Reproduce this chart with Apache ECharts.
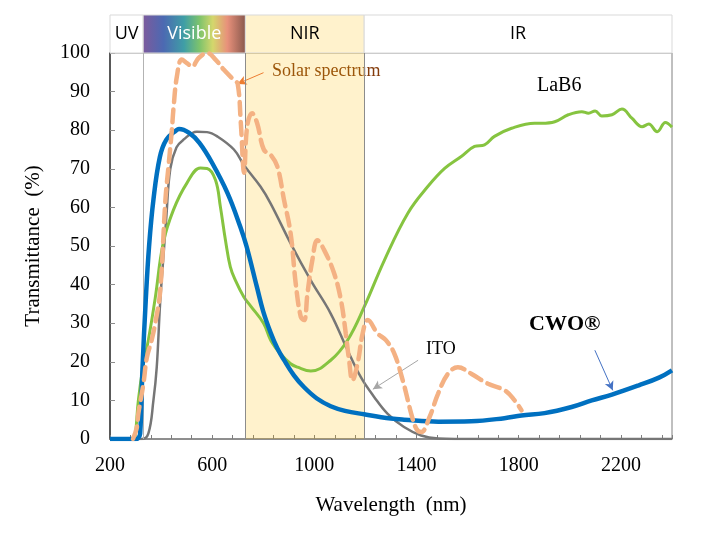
<!DOCTYPE html>
<html><head><meta charset="utf-8">
<script src="https://cdn.jsdelivr.net/npm/echarts@6/dist/echarts.min.js"></script>
<style>html,body{margin:0;padding:0;background:#fff}#c{width:712px;height:537px}</style>
</head><body><div id="c"></div>
<script>
// ---- data ----
const cwoNm = [200,300,310,318,327,340,353,370,395,420,460,470,510,550,600,660,710,735,775,800,829,855,881,920,960,1010,1064,1120,1195,1300,1351,1485,1614,1744,1811,1901,2007,2086,2165,2270,2349,2400];
const cwoT  = [0,0,0.2,1.3,18,36,50,62,73,77.5,80,80.3,79.3,76.7,71.5,63.7,55,49.8,39.4,33,27.5,23.5,20.5,16.5,13.4,10.5,8.5,7.3,6.4,5.3,5.0,4.5,4.6,5.4,6.1,6.7,8.3,10,11.5,13.9,15.9,17.8];

const itoNm = [200,324,350,370,383,396,410,420,436,460,487,540,580,620,685,724,789,829,907,986,1064,1130,1182,1234,1287,1351,1418,1485,1550,2400];
const itoT  = [0,0,1.4,10,18.6,35,48,57,70,75.5,77.5,79.6,79.5,78.4,75,71,65.4,61,50.7,41.1,32.5,23,16,10.9,6.5,3.1,0.9,0.1,0,0];

const lab6Nm = [200,290,298,311,331,350,377,408,448,501,554,580,613,632,652,671,691,724,750,801,829,868,907,934,986,1064,1130,1195,1274,1366,1444,1510,1575,1627,1666,1705,1772,1862,1890,1941,1994,2047,2073,2099,2125,2165,2204,2243,2283,2309,2342,2374,2400];
const lab6T  = [0,0,0.5,10,19.5,25.6,36.5,50.7,59.3,66.3,70.2,70.1,67.1,60.2,51.5,44.6,41.1,36.8,34.5,30,25.6,22,19.5,18.6,17.6,20.4,25.6,34.2,46.3,58.5,65.4,70.1,73.2,75.8,76.2,78.4,80.5,81.8,81.8,82.2,84,84.8,84.4,85,83.7,84,85.5,83.1,80.9,81.6,79.6,82,80.8];

const solarNm = [290,305,311,331,344,363,377,396,417,429,442,449,462,481,501,521,547,580,613,645,685,700,712,725,737,756,776,802,829,855,881,907,927,947,960,973,992,1012,1038,1077,1104,1123,1136,1149,1169,1189,1209,1248,1280,1313,1346,1366,1379,1399,1418,1451,1484,1523,1562,1614,1680,1745,1784,1811];
const solarT  = [0,3,6.6,14.4,21,25.6,30,38,62,70.6,80,86,94,98.3,97.4,96.5,98.7,100,98.3,95.7,93,92,82,69,81,84.4,81.8,75,73.6,70.6,62,53.3,40.3,31.6,30.8,37.7,46.3,51.5,49,43,36,27.3,20.4,15.2,19.5,27.3,30.8,27.3,25.6,22.1,15.2,10,6.6,2.7,1.8,5.7,11.7,16.9,18.6,16.9,14.3,12.6,10,7.4];

const bandNames = ['UV','Visible','NIR','IR'];
const bandEdges = [200,330,730,1195,2400];
const xTickLabels = [200,600,1000,1400,1800,2200];

const zip = (a,b) => a.map((v,i)=>[v,b[i]]);

const serif = 'Liberation Serif';
const chart = echarts.init(document.getElementById('c'), null, {renderer:'canvas'});

const visGrad = new echarts.graphic.LinearGradient(0,0,1,0,[
  {offset:0,color:'#7D5A9C'},{offset:0.2,color:'#4C69B2'},{offset:0.4,color:'#3F9EA6'},
  {offset:0.55,color:'#7DC36C'},{offset:0.68,color:'#D4D76C'},{offset:0.82,color:'#E8917B'},{offset:1,color:'#87574C'}]);
const bandFill = ['#ffffff', visGrad, '#FFF2CC', '#ffffff'];
const bandText = ['#000','#fff','#000','#000'];

const headerAreas = bandNames.map((n,i)=>[
  {xAxis: bandEdges[i], name: n, itemStyle:{color: bandFill[i], borderColor:'#d9d9d9', borderWidth:1},
   label:{show:true, position:'inside', color: bandText[i], fontSize:18, fontFamily:'Open Sans'}},
  {xAxis: bandEdges[i+1]}
]);

const lineBase = {type:'line', showSymbol:false, symbol:'none', smooth:0.4, xAxisIndex:0, yAxisIndex:0, silent:true};

chart.setOption({
  animation:false,
  backgroundColor:'#fff',
  grid:[
    {left:110, right:40, top:53, bottom:98, show:true, borderColor:'#808080', borderWidth:1, backgroundColor:'transparent'},
    {left:110, right:40, top:15, height:38, show:false}
  ],
  xAxis:[
    {type:'value', gridIndex:0, min:200, max:2400, interval:80,
     axisLine:{show:true, onZero:false, lineStyle:{color:'#7f7f7f', width:1.5}},
     axisTick:{show:true, inside:true, length:4, lineStyle:{color:'#7f7f7f'}},
     splitLine:{show:false},
     axisLabel:{interval:0, margin:17, color:'#000', fontFamily:serif, fontSize:20,
       formatter: v => xTickLabels.indexOf(v) >= 0 ? String(v) : ''},
     name:'Wavelength  (nm)', nameLocation:'middle', nameGap:56,
     nameTextStyle:{color:'#000', fontFamily:serif, fontSize:21}},
    {type:'value', gridIndex:1, min:200, max:2400, show:false}
  ],
  yAxis:[
    {type:'value', gridIndex:0, min:0, max:100, interval:10,
     axisLine:{show:true, lineStyle:{color:'#595959', width:2}},
     axisTick:{show:true, inside:true, length:5, lineStyle:{color:'#8c8c8c'}},
     splitLine:{show:false},
     axisLabel:{margin:20, color:'#000', fontFamily:serif, fontSize:20},
     name:'Transmittance  (%)', nameLocation:'middle', nameGap:66, nameRotate:90,
     nameTextStyle:{color:'#000', fontFamily:serif, fontSize:21}},
    {type:'value', gridIndex:1, min:0, max:1, show:false}
  ],
  series:[
    {type:'line', xAxisIndex:1, yAxisIndex:1, data:[], silent:true,
     markArea:{silent:true, data: headerAreas}},
    Object.assign({}, lineBase, {name:'ITO', z:3, data: zip(itoNm,itoT),
      lineStyle:{color:'#767676', width:2.5},
      markLine:{silent:true, symbol:['none','arrow'], symbolSize:[7,9],
        lineStyle:{color:'#a6a6a6', width:1, type:'solid'}, label:{show:false},
        data:[[{coord:[1406,20.4]},{coord:[1229,12.9]}]]}}),
    Object.assign({}, lineBase, {name:'LaB6', z:4, data: zip(lab6Nm,lab6T),
      lineStyle:{color:'#86C440', width:3}}),
    Object.assign({}, lineBase, {name:'CWO', z:5, data: zip(cwoNm,cwoT),
      lineStyle:{color:'#0070C0', width:4.5},
      markLine:{silent:true, symbol:['none','arrow'], symbolSize:[7,9],
        lineStyle:{color:'#4472C4', width:1, type:'solid'}, label:{show:false},
        data:[[{coord:[2098,23]},{coord:[2168,12.6]}]]}}),
    Object.assign({}, lineBase, {name:'Solar', z:6, data: zip(solarNm,solarT),
      lineStyle:{color:'#F4B183', width:4.5, type:[13,7], cap:'round'},
      markLine:{silent:true, symbol:['none','arrow'], symbolSize:[7,9],
        lineStyle:{color:'#ED7D31', width:1, type:'solid'}, label:{show:false},
        data:[[{coord:[801,94.9]},{coord:[699,92]}]]}}),
    {type:'line', xAxisIndex:0, yAxisIndex:0, data:[], z:10, silent:true,
     markArea:{silent:true, itemStyle:{color:'rgba(255,190,0,0.2)'},
       data:[[{xAxis: bandEdges[2]},{xAxis: bandEdges[3]}]]},
     markLine:{silent:true, symbol:'none', label:{show:false},
       lineStyle:{color:'#8c8c8c', width:1, type:'solid'},
       data:[{xAxis: bandEdges[1], lineStyle:{color:'#b3b3b3'}},{xAxis: bandEdges[2]},{xAxis: bandEdges[3]}]}}
  ],
  graphic:[
    {type:'text', left:272, top:62, style:{text:'Solar spectrum', fill:'#843C0C', font:'18px "Liberation Serif"'}},
    {type:'text', left:537, top:76, style:{text:'LaB6', fill:'#000', font:'20px "Liberation Serif"'}},
    {type:'text', left:426, top:340, style:{text:'ITO', fill:'#000', font:'18px "Liberation Serif"'}},
    {type:'text', left:529, top:313, style:{text:'CWO®', fill:'#000', font:'bold 22px "Liberation Serif"'}}
  ]
});
</script></body></html>
